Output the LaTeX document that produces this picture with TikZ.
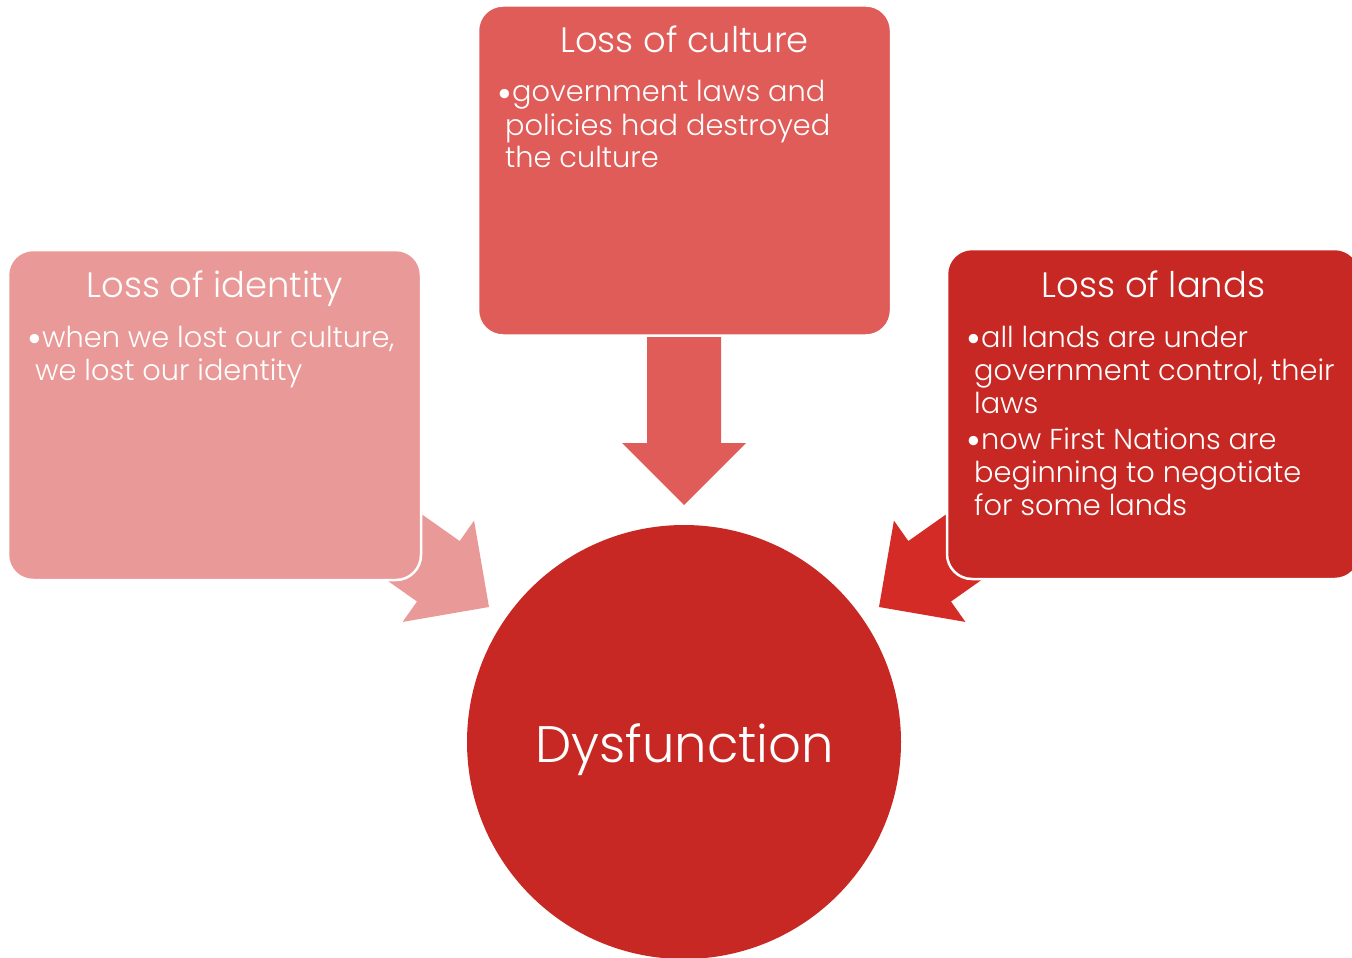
\documentclass[tikz,border=0pt]{standalone}
\usepackage{fontspec}
\setmainfont{Poppins Light}
\definecolor{pinkbox}{HTML}{E99997}
\definecolor{midbox}{HTML}{E05C59}
\definecolor{darkbox}{HTML}{C72823}
\definecolor{brightarrow}{HTML}{D42B27}
\newcommand{\bulletmark}{\hspace*{-8pt}\makebox[15pt][l]{\raisebox{-5.5pt}{\scalebox{1.4}{•}}}}
\tikzset{
  x=1pt, y=1pt,
  box/.style={rectangle, rounded corners=25pt, draw=white, line width=2.5pt,
    minimum width=413pt, minimum height=330pt, inner sep=0pt},
  titletext/.style={text=white, font=\fontsize{35.3}{40}\selectfont, inner sep=0pt, anchor=base},
  body/.style={text=white, font=\fontsize{28.8}{33}\selectfont, inner sep=0pt, anchor=base west},
  pics/bigarrow/.style={code={
    \fill[#1] (-168,37) -- (-62,37) -- (-62,62) -- (0,0) -- (-62,-62) -- (-62,-37) -- (-168,-37) -- cycle;}}
}
\begin{document}
\begin{tikzpicture}
\useasboundingbox (0,0) rectangle (1352,-958);
\clip (0,0) rectangle (1352,-958);
% block arrows (behind the boxes)
\pic[rotate=-90] (arrtop) at (684,-505) {bigarrow=midbox};
\pic[rotate=-35.2] (arrleft) at (489,-607) {bigarrow=pinkbox};
\pic[rotate=-144.8] (arrright) at (879,-607) {bigarrow=brightarrow};
% boxes
\node[box, fill=pinkbox] (identity) at (214.5,-415) {};
\node[box, fill=midbox] (culture) at (684.5,-170.5) {};
\node[box, fill=darkbox] (lands) at (1153.5,-414) {};
\node[circle, fill=darkbox, minimum size=434pt, inner sep=0pt] (dys) at (684,-742) {};
% titles
\node[titletext] (idtitle) at (214.5,-297) {Loss of identity};
\node[titletext] (cutitle) at (684.5,-53) {Loss of culture};
\node[titletext] (latitle) at (1153.5,-297) {Loss of lands};
% bodies
\node[body] (idtext) at (35,-347) {\parbox[t]{390pt}{\bulletmark when we lost our culture,\\we lost our identity}};
\node[body] (cutext) at (505,-102) {\parbox[t]{390pt}{\bulletmark government laws and\\policies had destroyed\\the culture}};
\node[body] (latext1) at (974,-347) {\parbox[t]{390pt}{\bulletmark all lands are under\\government control, their\\laws}};
\node[body] (latext2) at (974,-449) {\parbox[t]{390pt}{\bulletmark now First Nations are\\beginning to negotiate\\for some lands}};
% circle label
\node[text=white, font=\fontsize{51.3}{60}\selectfont, inner sep=0pt, anchor=base] (dyslabel) at (684.5,-762) {Dysfunction};
\end{tikzpicture}
\end{document}
